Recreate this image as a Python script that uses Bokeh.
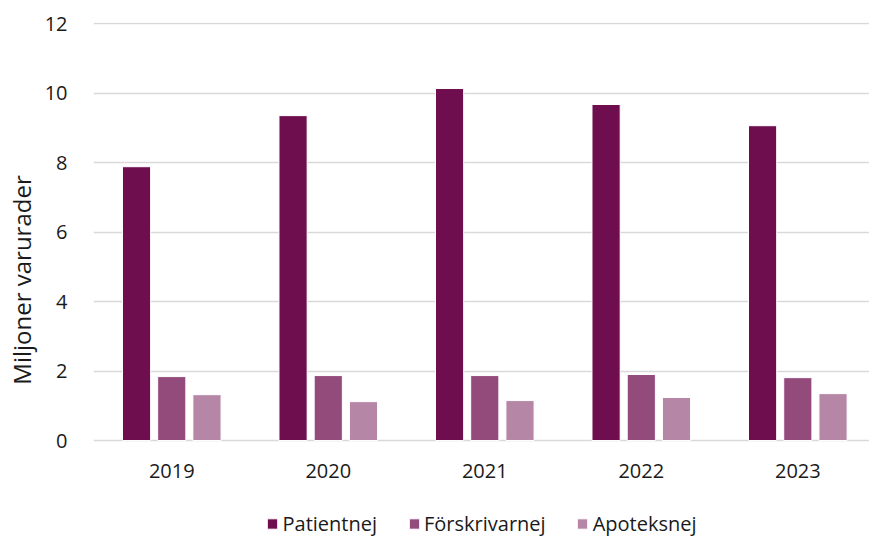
from bokeh.plotting import figure
from bokeh.models import ColumnDataSource, Legend, LegendItem, FixedTicker, Range1d
from bokeh.core.properties import value
from bokeh.transform import dodge
from bokeh.embed import file_html
from bokeh.resources import INLINE

years = ["2019", "2020", "2021", "2022", "2023"]
patientnej = [7.88, 9.35, 10.13, 9.67, 9.06]
forskrivarnej = [1.84, 1.87, 1.87, 1.90, 1.81]
apoteksnej = [1.32, 1.12, 1.15, 1.24, 1.35]
series_names = ["Patientnej", "Förskrivarnej", "Apoteksnej"]
colors = ["#6E0E4E", "#934B7C", "#B586A5"]
y_ticks = [0, 2, 4, 6, 8, 10, 12]

xpos = [i + 0.5 for i in range(len(years))]
src = ColumnDataSource(dict(x=xpos, year=years, zero=[0] * len(years),
                            p=patientnej, f=forskrivarnej, a=apoteksnej))

FONT = "Open Sans"

p = figure(x_range=Range1d(0, 4.958), y_range=Range1d(-2.79, 12.03),
           frame_width=776, frame_height=515,
           min_border_left=93, min_border_right=0, min_border_top=22, min_border_bottom=0,
           output_backend="svg", toolbar_location=None)

r = []
for col, off, c in zip(["p", "f", "a"], [-0.225, 0.0, 0.225], colors):
    r.append(p.vbar(x=dodge("x", off), top=col, bottom=0, width=0.18,
                    source=src, fill_color=c, line_color="white", line_width=1))

# category labels under the zero line
p.text(x="x", y="zero", text="year", source=src, y_offset=30,
       text_align="center", text_baseline="middle",
       text_font=value(FONT), text_font_size="20px", text_color="#1a1a1a")

p.outline_line_color = None
p.background_fill_color = "white"
p.xgrid.grid_line_color = None
p.ygrid.grid_line_color = "#D9D9D9"
p.ygrid.grid_line_width = 1.5
p.yaxis.ticker = FixedTicker(ticks=y_ticks)
p.xaxis.visible = False

p.yaxis.axis_line_color = None
p.yaxis.major_tick_line_color = None
p.yaxis.minor_tick_line_color = None
p.yaxis.major_label_text_font = FONT
p.yaxis.major_label_text_font_size = "20px"
p.yaxis.major_label_text_color = "#1a1a1a"
p.yaxis.major_label_standoff = 20
p.yaxis.axis_label = "Miljoner varurader"
p.yaxis.axis_label_text_font = FONT
p.yaxis.axis_label_text_font_size = "24px"
p.yaxis.axis_label_text_font_style = "normal"
p.yaxis.axis_label_text_color = "#1a1a1a"
p.yaxis.axis_label_standoff = 4

legend = Legend(items=[LegendItem(label=n, renderers=[rr]) for n, rr in zip(series_names, r)],
                orientation="horizontal", location="bottom_center",
                label_text_font=FONT, label_text_font_size="20px", label_text_color="#1a1a1a",
                glyph_width=13, glyph_height=13, spacing=30, label_standoff=4,
                border_line_color=None, background_fill_alpha=0, margin=0, padding=0)
p.add_layout(legend)

open("out.html", "w").write(file_html(p, INLINE))
